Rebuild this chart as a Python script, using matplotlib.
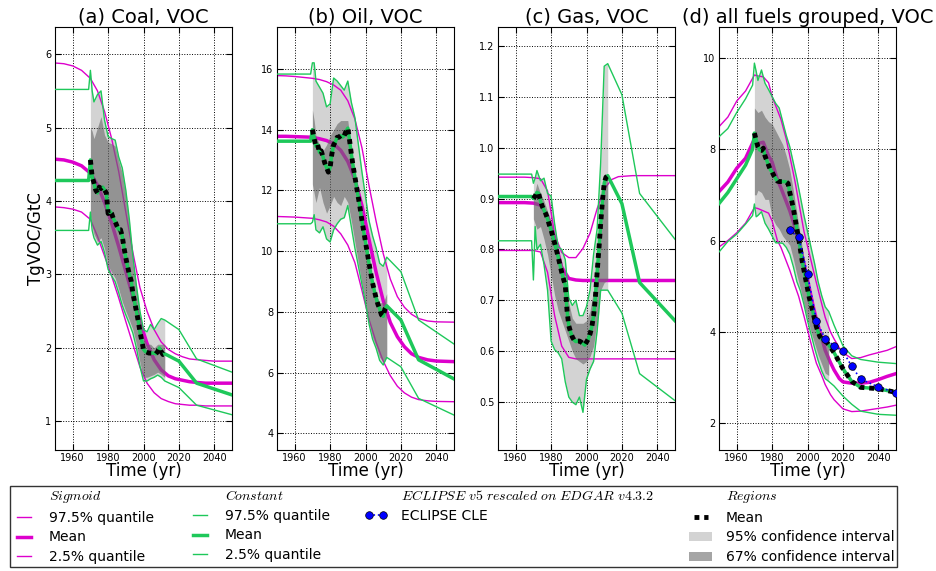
import matplotlib
matplotlib.use('Agg')
import matplotlib.pyplot as plt
from matplotlib.lines import Line2D
from matplotlib.ticker import MultipleLocator

plt.rcParams['font.family'] = 'DejaVu Sans'
plt.rcParams['mathtext.fontset'] = 'cm'

# ---------------- data ----------------
years_hist = list(range(1970, 2013))
ci_years = [1970, 1971, 1972, 1974, 1976, 1978, 1980, 1982, 1984, 1986, 1988, 1990,
            1992, 1994, 1996, 1998, 2000, 2002, 2004, 2006, 2008, 2010, 2012]
sig_years = [1950, 1955, 1960, 1965, 1970, 1974, 1978, 1982, 1986, 1990, 1994, 1998,
             2002, 2006, 2010, 2014, 2018, 2022, 2026, 2030, 2035, 2040, 2050]
pre_years = [1950, 1969]
proj_years = [2020, 2030, 2050]

# (a) coal
coal_mean = [4.56, 4.33, 4.25, 4.15, 4.11, 4.19, 4.17, 4.19, 4.15, 4.11,
             3.83, 3.86, 3.83, 3.76, 3.72, 3.66, 3.61, 3.61, 3.52, 3.36,
             3.23, 3.11, 3.0, 2.92, 2.75, 2.62, 2.5, 2.37, 2.22, 2.1,
             1.98, 1.95, 1.94, 1.93, 1.93, 1.93, 1.93, 1.92, 1.95, 2.0,
             1.95, 1.91, 1.92]
coal_ci95_hi = [5.78, 5.5, 5.35, 5.45, 5.5, 5.1, 4.88, 4.85, 4.83, 4.6, 4.45, 4.15,
                3.75, 3.25, 2.85, 2.5, 2.25, 2.22, 2.32, 2.25, 2.33, 2.4, 2.38]
coal_ci67_hi = [5.0, 4.95, 4.85, 5.0, 5.15, 4.9, 4.8, 4.78, 4.75, 4.55, 4.38, 4.08,
                3.68, 3.18, 2.8, 2.45, 2.15, 2.05, 2.05, 2.0, 2.05, 2.05, 2.05]
coal_ci67_lo = [3.8, 3.65, 3.55, 3.45, 3.5, 3.35, 3.12, 3.03, 2.95, 2.8, 2.63, 2.5,
                2.38, 2.25, 2.05, 1.8, 1.6, 1.6, 1.62, 1.64, 1.67, 1.64, 1.6]
coal_ci95_lo = [3.85, 3.6, 3.5, 3.4, 3.45, 3.3, 3.07, 2.98, 2.9, 2.75, 2.58, 2.45,
                2.33, 2.2, 2.0, 1.75, 1.55, 1.55, 1.58, 1.6, 1.63, 1.6, 1.55]
coal_sig_hi = [5.88, 5.87, 5.84, 5.78, 5.67, 5.5, 5.22, 4.85, 4.4, 3.85, 3.3, 2.82,
               2.5, 2.25, 2.08, 1.98, 1.92, 1.88, 1.85, 1.84, 1.83, 1.82, 1.82]
coal_sig_mid = [4.57, 4.56, 4.53, 4.48, 4.38, 4.22, 3.98, 3.7, 3.38, 3.04, 2.7, 2.36,
                2.06, 1.84, 1.7, 1.62, 1.58, 1.56, 1.54, 1.53, 1.52, 1.52, 1.52]
coal_sig_lo = [3.92, 3.91, 3.89, 3.85, 3.75, 3.52, 3.25, 2.98, 2.68, 2.36, 2.05, 1.74,
               1.52, 1.39, 1.31, 1.27, 1.24, 1.23, 1.22, 1.22, 1.21, 1.21, 1.21]
coal_cst_pre = [5.52, 4.28, 3.6]          # upper, mean, lower before 1970
coal_cst_proj_hi = [2.25, 1.85, 1.67]
coal_cst_proj_mid = [1.82, 1.52, 1.36]
coal_cst_proj_lo = [1.46, 1.22, 1.09]

# (b) oil
oil_mean = [14.0, 13.7, 13.45, 13.5, 13.25, 13.3, 13.1, 12.9, 12.75, 12.6,
            12.75, 13.2, 13.5, 13.6, 13.75, 13.75, 13.8, 13.75, 13.8, 13.95,
            14.05, 13.65, 13.2, 12.8, 12.45, 12.1, 11.75, 11.4, 11.0, 10.65,
            10.3, 9.95, 9.6, 9.25, 8.95, 8.7, 8.45, 8.25, 8.1, 7.9,
            7.85, 8.1, 8.2]
oil_ci95_hi = [16.2, 16.2, 15.6, 15.4, 15.2, 14.75, 14.85, 15.7, 15.6, 15.45, 15.3, 15.6,
               14.9, 14.4, 13.5, 12.6, 11.8, 11.0, 10.5, 10.1, 9.6, 9.5, 9.8]
oil_ci67_hi = [14.65, 14.3, 13.8, 13.5, 13.3, 13.5, 13.8, 14.0, 14.2, 14.3, 14.3, 14.3,
               13.4, 12.6, 11.9, 11.1, 10.3, 9.6, 9.0, 8.6, 8.3, 8.3, 8.6]
oil_ci67_lo = [12.2, 11.9, 11.6, 12.1, 11.6, 11.25, 11.5, 11.8, 11.6, 11.5, 11.8, 11.6,
               11.0, 10.3, 9.6, 8.9, 8.3, 7.65, 7.15, 6.85, 6.5, 6.35, 6.55]
oil_ci95_lo = [10.95, 11.2, 10.7, 10.6, 10.8, 10.4, 10.3, 10.7, 10.9, 11.05, 11.1, 11.5,
               10.8, 10.1, 9.5, 8.9, 8.3, 7.6, 7.1, 6.8, 6.4, 6.25, 6.5]
oil_sig_hi = [15.78, 15.77, 15.75, 15.72, 15.69, 15.65, 15.58, 15.47, 15.3, 14.95, 14.35, 13.4,
              12.15, 10.98, 9.92, 9.08, 8.5, 8.15, 7.92, 7.78, 7.7, 7.67, 7.66]
oil_sig_mid = [13.78, 13.78, 13.77, 13.76, 13.75, 13.7, 13.64, 13.53, 13.32, 12.95, 12.37, 11.5,
               10.38, 9.3, 8.37, 7.65, 7.18, 6.85, 6.62, 6.5, 6.42, 6.38, 6.36]
oil_sig_lo = [11.14, 11.13, 11.12, 11.1, 11.08, 11.03, 10.96, 10.82, 10.57, 10.2, 9.62, 8.7,
              7.75, 7.0, 6.38, 5.9, 5.55, 5.33, 5.19, 5.11, 5.07, 5.05, 5.04]
oil_cst_pre = [15.83, 13.62, 10.9]
oil_cst_proj_hi = [9.32, 7.73, 6.94]
oil_cst_proj_mid = [7.73, 6.42, 5.79]
oil_cst_proj_lo = [6.19, 5.15, 4.6]

# (c) gas
gas_mean = [0.9, 0.905, 0.912, 0.91, 0.895, 0.885, 0.877, 0.87, 0.86, 0.848,
            0.838, 0.825, 0.812, 0.799, 0.785, 0.77, 0.755, 0.742, 0.73, 0.68,
            0.65, 0.638, 0.628, 0.622, 0.619, 0.62, 0.62, 0.618, 0.615, 0.612,
            0.618, 0.624, 0.634, 0.648, 0.67, 0.705, 0.755, 0.8, 0.85, 0.895,
            0.93, 0.942, 0.945]
gas_ci95_hi = [0.93, 0.94, 0.955, 0.935, 0.94, 0.91, 0.905, 0.85, 0.805, 0.8, 0.78, 0.705,
               0.69, 0.7, 0.67, 0.67, 0.688, 0.72, 0.79, 0.84, 0.97, 1.16, 1.165]
gas_ci67_hi = [0.905, 0.915, 0.93, 0.91, 0.895, 0.875, 0.855, 0.83, 0.795, 0.775, 0.745, 0.695,
               0.665, 0.655, 0.655, 0.655, 0.66, 0.68, 0.72, 0.79, 0.86, 0.93, 0.945]
gas_ci67_lo = [0.86, 0.85, 0.84, 0.845, 0.82, 0.79, 0.75, 0.71, 0.68, 0.66, 0.64, 0.62,
               0.6, 0.585, 0.58, 0.575, 0.58, 0.59, 0.61, 0.66, 0.72, 0.735, 0.74]
gas_ci95_lo = [0.74, 0.845, 0.8, 0.81, 0.77, 0.72, 0.62, 0.603, 0.597, 0.585, 0.54, 0.51,
               0.5, 0.495, 0.51, 0.48, 0.545, 0.565, 0.58, 0.64, 0.72, 0.72, 0.72]
gas_sig_hi = [0.942, 0.942, 0.942, 0.942, 0.941, 0.939, 0.915, 0.83, 0.794, 0.784, 0.784, 0.802,
              0.832, 0.88, 0.918, 0.937, 0.943, 0.944, 0.945, 0.945, 0.945, 0.945, 0.945]
gas_sig_mid = [0.892, 0.892, 0.892, 0.892, 0.891, 0.887, 0.866, 0.82, 0.765, 0.743, 0.74, 0.739,
               0.739, 0.739, 0.739, 0.739, 0.739, 0.739, 0.739, 0.739, 0.739, 0.739, 0.739]
gas_sig_lo = [0.798, 0.798, 0.798, 0.798, 0.798, 0.795, 0.755, 0.67, 0.61, 0.588, 0.585, 0.585,
              0.585, 0.585, 0.585, 0.585, 0.585, 0.585, 0.585, 0.585, 0.585, 0.585, 0.585]
gas_cst_pre = [0.948, 0.904, 0.817]
gas_cst_proj_hi = [1.104, 0.91, 0.82]
gas_cst_proj_mid = [0.89, 0.735, 0.66]
gas_cst_proj_lo = [0.675, 0.556, 0.503]

# (d) all fuels grouped
all_mean = [8.35, 8.2, 8.05, 7.98, 7.97, 8.02, 7.85, 7.75, 7.65, 7.55,
            7.5, 7.42, 7.36, 7.3, 7.29, 7.29, 7.29, 7.29, 7.28, 7.25,
            7.05, 6.88, 6.7, 6.48, 6.25, 6.05, 5.8, 5.55, 5.35, 5.15,
            4.95, 4.75, 4.6, 4.45, 4.28, 4.12, 4.0, 3.9, 3.85, 3.82,
            3.8, 3.77, 3.72]
all_ci95_hi = [9.88, 9.7, 9.5, 9.73, 9.44, 9.3, 9.15, 9.0, 8.9, 8.6, 8.3, 8.05,
               7.7, 7.35, 6.95, 6.55, 6.2, 5.85, 5.5, 5.1, 4.8, 4.55, 4.45]
all_ci67_hi = [8.9, 8.85, 8.8, 8.85, 8.7, 8.6, 8.55, 8.4, 8.25, 8.1, 7.85, 7.55,
               7.1, 6.6, 6.1, 5.6, 5.15, 4.75, 4.4, 4.1, 3.9, 3.85, 3.85]
all_ci67_lo = [7.0, 7.0, 7.1, 7.05, 6.9, 6.9, 6.5, 6.35, 6.25, 6.1, 6.0, 5.9,
               5.6, 5.25, 4.95, 4.6, 4.3, 4.0, 3.75, 3.5, 3.3, 3.1, 3.05]
all_ci95_lo = [6.8, 6.52, 6.55, 6.63, 6.38, 6.25, 6.1, 5.95, 5.95, 5.94, 5.85, 5.7,
               5.43, 5.1, 4.9, 4.6, 4.25, 3.95, 3.65, 3.38, 3.15, 2.98, 2.92]
all_sig_years = [1950, 1955, 1960, 1965, 1970, 1972, 1975, 1978, 1980, 1983, 1985, 1988,
                 1990, 1993, 1995, 1998, 2000, 2003, 2005, 2008, 2010, 2013, 2015, 2018,
                 2020, 2025, 2030, 2035, 2040, 2045, 2050]
all_sig_hi = [8.49, 8.7, 9.05, 9.27, 9.62, 9.6, 9.58, 9.45, 9.15, 8.85, 8.65, 8.22,
              7.85, 7.28, 6.85, 6.2, 5.88, 5.4, 5.08, 4.62, 4.32, 4.0, 3.85, 3.65,
              3.55, 3.42, 3.44, 3.5, 3.55, 3.6, 3.68]
all_sig_mid = [7.07, 7.28, 7.58, 7.8, 8.22, 8.12, 8.15, 7.85, 7.72, 7.33, 7.15, 6.85,
               6.65, 6.28, 6.0, 5.5, 5.15, 4.6, 4.28, 3.88, 3.6, 3.33, 3.17, 2.98,
               2.91, 2.88, 2.88, 2.9, 2.96, 3.03, 3.09]
all_sig_lo = [5.86, 6.0, 6.17, 6.38, 6.72, 6.7, 6.65, 6.6, 6.43, 6.0, 5.85, 5.55,
              5.35, 5.0, 4.78, 4.35, 4.05, 3.6, 3.32, 3.05, 2.85, 2.63, 2.52, 2.4,
              2.32, 2.26, 2.27, 2.3, 2.33, 2.36, 2.4]
all_pre_years = [1950, 1955, 1960, 1965, 1969]
all_cst_pre_hi = [8.27, 8.45, 8.8, 9.1, 9.4]
all_cst_pre_mid = [6.81, 7.05, 7.35, 7.65, 8.0]
all_cst_pre_lo = [5.75, 5.98, 6.14, 6.36, 6.55]
all_proj_years = [2015, 2020, 2025, 2030, 2040, 2050]
all_cst_proj_hi = [4.15, 3.7, 3.48, 3.4, 3.34, 3.31]
all_cst_proj_lo = [2.82, 2.6, 2.42, 2.27, 2.2, 2.18]
all_mean_proj = [3.55, 3.2, 2.92, 2.79, 2.76, 2.68]

eclipse_years = [1990, 1995, 2000, 2005, 2010, 2015, 2020, 2025, 2030, 2040, 2050]
eclipse_vals = [6.22, 6.07, 5.26, 4.25, 3.85, 3.70, 3.58, 3.25, 2.97, 2.80, 2.67]

# ---------------- style ----------------
MAG = '#dd00cc'
GRN = '#1ec85a'
LIGHT = '#d3d3d3'
DOTS = (0, (1, 1))

fig = plt.figure(figsize=(9.36, 5.71), dpi=100)
lefts = [55, 277, 498, 719]
axes = [fig.add_axes([l / 936, 121 / 571, 177 / 936, 423 / 571]) for l in lefts]


def style(ax, title, ylim, step):
    ax.set_xlim(1950, 2050)
    ax.set_ylim(*ylim)
    ax.set_xticks([1960, 1980, 2000, 2020, 2040])
    ax.yaxis.set_major_locator(MultipleLocator(step))
    ax.grid(True, color='k', linestyle=':', linewidth=0.7)
    ax.tick_params(direction='in', top=True, right=True, labelsize=7, length=4, pad=2.5)
    ax.set_title(title, fontsize=14, pad=3)
    ax.set_xlabel('Time (yr)', fontsize=12, labelpad=-1)


def panel(ax, mean, c95h, c67h, c67l, c95l, sh, sm, sl, pre, ph, pm, pl):
    ax.fill_between(ci_years, c95l, c95h, color=LIGHT, lw=0, zorder=1)
    h1, = ax.plot(sig_years, sh, color=MAG, lw=1, zorder=2)
    h2, = ax.plot(sig_years, sm, color=MAG, lw=2.5, zorder=2)
    h3, = ax.plot(sig_years, sl, color=MAG, lw=1, zorder=2)
    ax.fill_between(ci_years, c67l, c67h, color='dimgray', alpha=0.6, lw=0, zorder=3)
    g1, = ax.plot(pre_years + ci_years + proj_years, [pre[0]] * 2 + c95h + ph,
                  color=GRN, lw=1, zorder=4)
    g2, = ax.plot(pre_years + years_hist + proj_years, [pre[1]] * 2 + mean + pm,
                  color=GRN, lw=2.5, zorder=4)
    g3, = ax.plot(pre_years + ci_years + proj_years, [pre[2]] * 2 + c95l + pl,
                  color=GRN, lw=1, zorder=4)
    k, = ax.plot(years_hist, mean, color='k', ls=DOTS, lw=3.5, zorder=5)
    return [h1, h2, h3], [g1, g2, g3], k


sig_h, cst_h, mean_h = panel(axes[0], coal_mean, coal_ci95_hi, coal_ci67_hi, coal_ci67_lo,
                             coal_ci95_lo, coal_sig_hi, coal_sig_mid, coal_sig_lo,
                             coal_cst_pre, coal_cst_proj_hi, coal_cst_proj_mid,
                             coal_cst_proj_lo)
panel(axes[1], oil_mean, oil_ci95_hi, oil_ci67_hi, oil_ci67_lo, oil_ci95_lo,
      oil_sig_hi, oil_sig_mid, oil_sig_lo, oil_cst_pre, oil_cst_proj_hi,
      oil_cst_proj_mid, oil_cst_proj_lo)
panel(axes[2], gas_mean, gas_ci95_hi, gas_ci67_hi, gas_ci67_lo, gas_ci95_lo,
      gas_sig_hi, gas_sig_mid, gas_sig_lo, gas_cst_pre, gas_cst_proj_hi,
      gas_cst_proj_mid, gas_cst_proj_lo)

# (d) all fuels grouped
ax = axes[3]
p95 = ax.fill_between(ci_years, all_ci95_lo, all_ci95_hi, color=LIGHT, lw=0, zorder=1)
ax.plot(all_sig_years, all_sig_hi, color=MAG, lw=1, zorder=2)
ax.plot(all_sig_years, all_sig_mid, color=MAG, lw=2.5, zorder=2)
ax.plot(all_sig_years, all_sig_lo, color=MAG, lw=1, zorder=2)
p67 = ax.fill_between(ci_years, all_ci67_lo, all_ci67_hi, color='dimgray', alpha=0.6,
                      lw=0, zorder=3)
ax.plot(all_pre_years + ci_years + all_proj_years, all_cst_pre_hi + all_ci95_hi + all_cst_proj_hi,
        color=GRN, lw=1, zorder=4)
ax.plot(all_pre_years + years_hist + all_proj_years, all_cst_pre_mid + all_mean + all_mean_proj,
        color=GRN, lw=2.5, zorder=4)
ax.plot(all_pre_years + ci_years + all_proj_years, all_cst_pre_lo + all_ci95_lo + all_cst_proj_lo,
        color=GRN, lw=1, zorder=4)
ax.plot(years_hist + all_proj_years, all_mean + all_mean_proj, color='k', ls=DOTS, lw=3.5,
        zorder=5)
ecl, = ax.plot(eclipse_years, eclipse_vals, color='b', ls=':', lw=1.2, marker='o',
               markersize=5.5, markeredgecolor='k', markeredgewidth=0.5, zorder=6)

style(axes[0], '(a) Coal, VOC', (0.61, 6.37), 1)
style(axes[1], '(b) Oil, VOC', (3.45, 17.38), 2)
style(axes[2], '(c) Gas, VOC', (0.406, 1.237), 0.1)
style(axes[3], '(d) all fuels grouped, VOC', (1.42, 10.67), 2)
axes[0].set_ylabel('TgVOC/GtC', fontsize=12, labelpad=0)

# ---------------- legend ----------------
blank = Line2D([], [], linestyle='none')
handles = [blank, sig_h[0], sig_h[1], sig_h[2],
           blank, cst_h[0], cst_h[1], cst_h[2],
           blank, ecl, blank, blank,
           blank, mean_h, p95, p67]
labels = [r'$Sigmoid$', '97.5% quantile', 'Mean', '2.5% quantile',
          r'$Constant$', '97.5% quantile', 'Mean', '2.5% quantile',
          r'$ECLIPSE\ v5\ rescaled\ on\ EDGAR\ v4.3.2$', 'ECLIPSE CLE', '', '',
          r'$Regions$', 'Mean', '95% confidence interval', '67% confidence interval']
leg = fig.legend(handles, labels, ncol=4, loc='lower left',
                 bbox_to_anchor=(10 / 936, 4 / 571, 887 / 936, 0.1), mode='expand',
                 fontsize=10, frameon=True, fancybox=False, edgecolor='k',
                 handlelength=1.6, handletextpad=1.0, labelspacing=0.42,
                 borderpad=0.2, numpoints=2, borderaxespad=0)
leg.get_frame().set_linewidth(1.0)

fig.savefig('out.png', dpi=100)
